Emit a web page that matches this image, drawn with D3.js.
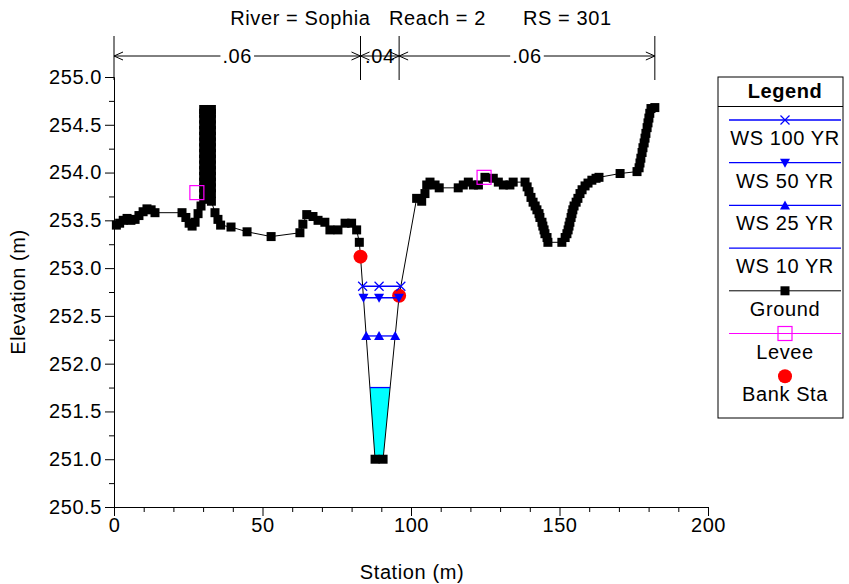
<!DOCTYPE html>
<html>
<head>
<meta charset="utf-8">
<script src="https://cdn.jsdelivr.net/npm/d3@7"></script>
<style>
  body { margin: 0; background: #fff; }
  svg { font-family: Arial, "Liberation Sans", sans-serif; }
  svg text { letter-spacing: 0.6px; }
</style>
</head>
<body>
<div id="chart"></div>
<script>
// ground survey points (station m, elevation m)
const groundSta = [
  0.8, 1.9, 3.1, 4.4, 5.7, 7.1, 8.4, 9.8, 11.1, 12.5, 13.8, 22.9, 24.2, 25.3, 26.3, 27.3, 28.3, 29.3,
  30.2, 30.2, 30.2, 30.2, 30.2, 30.2, 30.2, 30.2, 30.2, 30.2, 30.2, 30.2, 30.2, 30.2, 30.2, 30.2, 30.2,
  32.8, 32.8, 32.8, 32.8, 32.8, 32.8, 32.8, 32.8, 32.8, 32.8, 32.8, 32.8, 32.8, 32.8, 32.8, 32.8, 32.8,
  34.0, 35.0, 35.9, 39.4, 44.8, 52.9, 62.6, 63.6, 64.9, 67.0, 68.7, 71.0, 72.7, 75.4, 77.8, 80.0, 81.7, 82.6,
  83.0, 87.9, 90.6, 96.0,
  101.9, 103.6, 104.7, 105.3, 106.4, 108.1, 109.5, 115.9, 117.6, 119.3, 121.0, 122.7, 124.9, 127.7, 129.4,
  131.1, 133.3, 134.4, 138.4,
  139.1, 139.7, 140.4, 141.1, 141.8, 142.4, 143.1, 143.4, 144.1, 144.4, 144.8, 145.1, 145.8, 146.1,
  150.8, 151.9, 152.5, 152.9, 153.2, 153.5, 153.9, 154.2, 154.5, 154.9, 155.6, 156.2, 156.9, 157.6, 158.6,
  159.6, 160.9, 162.3, 163.3, 170.4,
  176.1, 176.8, 177.1, 177.4, 177.8, 178.1, 178.5, 178.8, 179.1, 179.5, 179.8, 180.1, 180.4, 180.8, 182.1
];
const groundElev = [
  253.45, 253.47, 253.50, 253.52, 253.50, 253.51, 253.55, 253.59, 253.62, 253.61, 253.58, 253.58, 253.53, 253.47, 253.44, 253.48, 253.57, 253.65,
  253.72, 253.78, 253.84, 253.90, 253.96, 254.02, 254.08, 254.14, 254.20, 254.26, 254.32, 254.38, 254.44, 254.50, 254.56, 254.62, 254.66,
  254.66, 254.62, 254.56, 254.50, 254.44, 254.38, 254.32, 254.26, 254.20, 254.14, 254.08, 254.02, 253.96, 253.90, 253.84, 253.78, 253.70,
  253.58, 253.51, 253.45, 253.43, 253.38, 253.33, 253.37, 253.46, 253.56, 253.54, 253.50, 253.48, 253.40, 253.40, 253.47, 253.47, 253.40, 253.27,
  253.12, 251.00, 251.00, 252.71,
  253.73, 253.70, 253.78, 253.87, 253.90, 253.87, 253.84, 253.84, 253.87, 253.90, 253.87, 253.87, 253.95, 253.94, 253.90,
  253.87, 253.87, 253.90, 253.90,
  253.85, 253.80, 253.74, 253.69, 253.65, 253.61, 253.57, 253.53, 253.48, 253.44, 253.40, 253.36, 253.32, 253.27,
  253.27, 253.32, 253.36, 253.40, 253.44, 253.48, 253.53, 253.57, 253.61, 253.65, 253.69, 253.73, 253.78, 253.82, 253.86,
  253.89, 253.92, 253.94, 253.95, 253.99,
  254.01, 254.05, 254.10, 254.15, 254.21, 254.26, 254.31, 254.36, 254.41, 254.47, 254.52, 254.57, 254.62, 254.67, 254.68
];

const leveeSta = [27.9, 124.6];
const leveeElev = [253.79, 253.95];

const bankSta = [83.0, 96.0];
const bankElev = [253.12, 252.71];

const wsNames = ['WS 100 YR', 'WS 50 YR', 'WS 25 YR', 'WS 10 YR'];
const wsElev = [252.81, 252.69, 252.29, 251.75];
const wsSymbol = ['x', 'down', 'up', null];

const nSta = [0, 83.0, 96.0, 182.1];
const nValues = ['.06', '.04', '.06'];

const xTicks = [0, 50, 100, 150, 200];
const yTicks = [250.5, 251.0, 251.5, 252.0, 252.5, 253.0, 253.5, 254.0, 254.5, 255.0];

const W = 849, H = 584;
const FS = 20;
const MS = 9; // ground marker size
const blue = '#0000ff';

const svg = d3.select('#chart').append('svg')
  .attr('width', W).attr('height', H);

const x = d3.scaleLinear().domain([0, 200]).range([114, 708]);
const y = d3.scaleLinear().domain([250.5, 255]).range([507, 77]);

const ground = groundSta.map((s, i) => ({ s, e: groundElev[i] }));

// where a flat water surface meets the ground either side of the invert
function crossing(elev) {
  let lo = d3.minIndex(ground, d => d.e);
  let i = lo;
  while (i > 0 && ground[i - 1].e < elev) i--;
  const a = ground[i - 1], b = ground[i];
  const left = a.s + (elev - a.e) / (b.e - a.e) * (b.s - a.s);
  let j = lo;
  while (j < ground.length - 1 && ground[j + 1].e < elev) j++;
  const c = ground[j], d = ground[j + 1];
  const right = c.s + (elev - c.e) / (d.e - c.e) * (d.s - c.s);
  return { left, right, i, j };
}

// cyan fill under the lowest profile
const ws10 = wsElev[3];
const c10 = crossing(ws10);
const fillPts = [{ s: c10.left, e: ws10 }]
  .concat(ground.slice(c10.i, c10.j + 1))
  .concat([{ s: c10.right, e: ws10 }]);
svg.append('path')
  .attr('d', d3.line().x(d => x(d.s)).y(d => y(d.e))(fillPts) + 'Z')
  .attr('fill', '#00ffff');

// axes
const axX = svg.append('g').attr('transform', `translate(0,${y(250.5)})`)
  .call(d3.axisBottom(x).tickValues(xTicks).tickSize(9).tickPadding(1).tickFormat(d3.format('d')));
svg.append('g').attr('transform', `translate(0,${y(250.5)})`)
  .call(d3.axisBottom(x).tickValues(d3.range(10, 200, 10).filter(v => v % 50)).tickSize(5).tickFormat(''))
  .select('.domain').remove();
const axY = svg.append('g').attr('transform', `translate(${x(0)},0)`)
  .call(d3.axisLeft(y).tickValues(yTicks).tickSize(9).tickPadding(3).tickFormat(d3.format('.1f')));
svg.append('g').attr('transform', `translate(${x(0)},0)`)
  .call(d3.axisLeft(y).tickValues(yTicks.slice(0, -1).map(v => v + 0.25)).tickSize(5).tickFormat(''))
  .select('.domain').remove();
svg.selectAll('.tick line, .domain').attr('stroke', '#000');
[axX, axY].forEach(g => g.selectAll('text')
  .attr('font-size', FS).attr('font-family', 'Arial, "Liberation Sans", sans-serif').attr('fill', '#000'));
axX.selectAll('.tick text').attr('dy', '0.75em');

svg.append('text').attr('x', 412).attr('y', 579).attr('text-anchor', 'middle')
  .attr('font-size', FS).text('Station (m)');
svg.append('text').attr('transform', 'translate(25,292) rotate(-90)').attr('text-anchor', 'middle')
  .attr('font-size', FS).text('Elevation (m)');

// title
svg.append('text').attr('x', 421).attr('y', 25).attr('text-anchor', 'middle')
  .attr('font-size', FS).attr('xml:space', 'preserve')
  .text('River = Sophia   Reach = 2      RS = 301');

// Manning's n regions
const nY = 56;
const nG = svg.append('g');
nSta.forEach(s => {
  nG.append('line').attr('x1', x(s)).attr('x2', x(s)).attr('y1', 36).attr('y2', 80)
    .attr('stroke', '#000').attr('stroke-width', 1);
});
nValues.forEach((v, i) => {
  const x1 = x(nSta[i]), x2 = x(nSta[i + 1]);
  nG.append('line').attr('x1', x1).attr('x2', x2).attr('y1', nY).attr('y2', nY).attr('stroke', '#000');
  nG.append('path').attr('d', `M${x1 + 9},${nY - 4}L${x1},${nY}L${x1 + 9},${nY + 4}`)
    .attr('fill', 'none').attr('stroke', '#000');
  nG.append('path').attr('d', `M${x2 - 9},${nY - 4}L${x2},${nY}L${x2 - 9},${nY + 4}`)
    .attr('fill', 'none').attr('stroke', '#000');
  const t = nG.append('text').attr('x', (x1 + x2) / 2).attr('y', nY + 7).attr('text-anchor', 'middle')
    .attr('font-size', FS).text(v);
  const bb = t.node().getBBox();
  if (x2 - x1 > 60) {
    nG.insert('rect', 'text:last-child').attr('x', bb.x - 2).attr('y', nY - 3).attr('width', bb.width + 4)
      .attr('height', 6).attr('fill', '#fff');
  }
});

// ground line + markers
svg.append('path')
  .attr('d', d3.line().x(d => x(d.s)).y(d => y(d.e))(ground))
  .attr('fill', 'none').attr('stroke', '#000').attr('stroke-width', 1);
svg.append('g').selectAll('rect').data(ground).join('rect')
  .attr('x', d => x(d.s) - MS / 2).attr('y', d => y(d.e) - MS / 2)
  .attr('width', MS).attr('height', MS).attr('fill', '#000');

// bank stations
svg.append('g').selectAll('circle').data(bankSta).join('circle')
  .attr('cx', d => x(d)).attr('cy', (d, i) => y(bankElev[i])).attr('r', 7).attr('fill', '#ff0000');

// levees
svg.append('g').selectAll('rect').data(leveeSta).join('rect')
  .attr('x', d => x(d) - 7).attr('y', (d, i) => y(leveeElev[i]) - 7)
  .attr('width', 14).attr('height', 14).attr('fill', 'none').attr('stroke', '#ff00ff').attr('stroke-width', 1.2);

// symbols
function symbol(g, kind, cx, cy) {
  if (kind === 'x') {
    g.append('path').attr('d', `M${cx - 4.5},${cy - 4.5}L${cx + 4.5},${cy + 4.5}M${cx - 4.5},${cy + 4.5}L${cx + 4.5},${cy - 4.5}`)
      .attr('stroke', blue).attr('stroke-width', 1.2).attr('fill', 'none');
  } else if (kind === 'down') {
    g.append('path').attr('d', `M${cx - 5},${cy - 4}L${cx + 5},${cy - 4}L${cx},${cy + 5}Z`).attr('fill', blue);
  } else if (kind === 'up') {
    g.append('path').attr('d', `M${cx - 5},${cy + 4}L${cx + 5},${cy + 4}L${cx},${cy - 5}Z`).attr('fill', blue);
  } else if (kind === 'square') {
    g.append('rect').attr('x', cx - MS / 2).attr('y', cy - MS / 2).attr('width', MS).attr('height', MS).attr('fill', '#000');
  }
}

// water surfaces
const invertMid = d3.mean(ground.filter(d => d.e === d3.min(groundElev)), d => d.s);
const wsG = svg.append('g');
wsElev.forEach((e, k) => {
  const c = crossing(e);
  wsG.append('line').attr('x1', x(c.left)).attr('x2', x(c.right)).attr('y1', y(e)).attr('y2', y(e))
    .attr('stroke', blue).attr('stroke-width', 1.3);
  if (wsSymbol[k]) {
    [c.left, invertMid, c.right].forEach(s => symbol(wsG, wsSymbol[k], x(s), y(e)));
  }
});

// legend
const lg = svg.append('g').attr('transform', 'translate(718,77)');
const lw = 125;
lg.append('rect').attr('x', 0).attr('y', 0).attr('width', lw).attr('height', 341)
  .attr('fill', '#fff').attr('stroke', '#000').attr('stroke-width', 1);
lg.append('line').attr('x1', 0).attr('x2', lw).attr('y1', 29.5).attr('y2', 29.5).attr('stroke', '#000');
lg.append('text').attr('x', 67).attr('y', 21).attr('text-anchor', 'middle')
  .attr('font-size', FS).attr('font-weight', 'bold').text('Legend');

const legendItems = wsNames.map((n, k) => ({ name: n, color: blue, sym: wsSymbol[k] }))
  .concat([{ name: 'Ground', color: '#000', sym: 'square' },
           { name: 'Levee', color: '#ff00ff', sym: 'levee' },
           { name: 'Bank Sta', color: null, sym: 'bank' }]);
legendItems.forEach((it, i) => {
  const ly = 43 + i * 42.7;
  if (it.color) {
    lg.append('line').attr('x1', 11).attr('x2', lw - 2).attr('y1', ly).attr('y2', ly)
      .attr('stroke', it.color).attr('stroke-width', it.color === blue ? 1.3 : 1);
  }
  if (it.sym === 'levee') {
    lg.append('rect').attr('x', 60).attr('y', ly - 7).attr('width', 14).attr('height', 14)
      .attr('fill', 'none').attr('stroke', '#ff00ff').attr('stroke-width', 1.2);
  } else if (it.sym === 'bank') {
    lg.append('circle').attr('cx', 67).attr('cy', ly).attr('r', 7).attr('fill', '#ff0000');
  } else if (it.sym) {
    symbol(lg, it.sym, 67, ly);
  }
  lg.append('text').attr('x', 67).attr('y', ly + 25).attr('text-anchor', 'middle')
    .attr('font-size', FS).text(it.name);
});
</script>
</body>
</html>
